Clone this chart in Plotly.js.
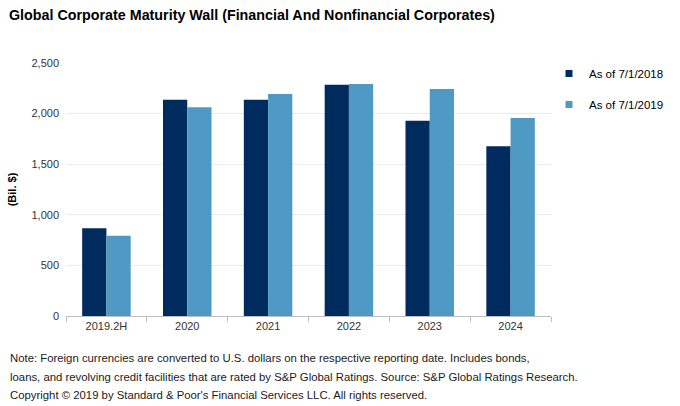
<!DOCTYPE html>
<html>
<head>
<meta charset="utf-8">
<script src="https://cdn.plot.ly/plotly-3.0.1.min.js"></script>
<style>html,body{margin:0;padding:0;background:#fff;}#chart{width:680px;height:406px;}</style>
</head>
<body>
<div id="chart"></div>
<script>
const categories = ["2019.2H", "2020", "2021", "2022", "2023", "2024"];
const seriesNames = ["As of 7/1/2018", "As of 7/1/2019"];
const values2018 = [866, 2137, 2137, 2286, 1930, 1677];
const values2019 = [793, 2062, 2194, 2292, 2243, 1956];
const yTicks = [0, 500, 1000, 1500, 2000, 2500];
const yTickLabels = ["0", "500", "1,000", "1,500", "2,000", "2,500"];
const noteLines = [
  "Note: Foreign currencies are converted to U.S. dollars on the respective reporting date. Includes bonds,",
  "loans, and revolving credit facilities that are rated by S&P Global Ratings. Source: S&P Global Ratings Research.",
  "Copyright © 2019 by Standard & Poor's Financial Services LLC. All rights reserved."
];
const colors = ["#002B5E", "#4E9AC4"];

const FONT = "Liberation Sans, Arial, sans-serif";
const W = 680, H = 406, L = 66, R = 128, T = 63, B = 90;
const plotW = W - L - R, plotH = H - T - B;

const traces = [
  {type: "bar", name: seriesNames[0], x: categories, y: values2018, showlegend: false,
   marker: {color: colors[0], line: {width: 0}}},
  {type: "bar", name: seriesNames[1], x: categories, y: values2019, showlegend: false,
   marker: {color: colors[1], line: {width: 0}}},
  {type: "scatter", mode: "markers", name: seriesNames[0], x: [null], y: [null], legendgroup: "a",
   marker: {symbol: "square", size: 7, color: colors[0]}},
  {type: "scatter", mode: "markers", name: seriesNames[1], x: [null], y: [null], legendgroup: "b",
   marker: {symbol: "square", size: 7, color: colors[1]}}
];

const noteY = [358, 377, 395];
const annotations = noteLines.map((t, i) => ({
  text: t, xref: "paper", yref: "paper",
  x: (8 - L) / plotW, y: (T + plotH - noteY[i]) / plotH,
  xanchor: "left", yanchor: "middle", showarrow: false,
  font: {family: FONT, size: 11.35, color: "#1a1a1a"}
}));

const layout = {
  width: W, height: H,
  margin: {l: L, r: R, t: T, b: B, pad: 0},
  paper_bgcolor: "#fff", plot_bgcolor: "#fff",
  font: {family: FONT, size: 11, color: "#333"},
  title: {text: "<b>Global Corporate Maturity Wall (Financial And Nonfinancial Corporates)</b>",
    xref: "container", yref: "container", x: 9 / W, y: 1 - 15 / H, xanchor: "left", yanchor: "middle",
    font: {family: FONT, size: 14.3, color: "#000"}},
  barmode: "group", bargap: 0.4, bargroupgap: 0,
  xaxis: {type: "category", showgrid: false, showline: true, linecolor: "#bfbfbf", linewidth: 1,
    ticks: "outside", ticklen: 5, tickcolor: "#bfbfbf", tickson: "boundaries",
    tickfont: {family: FONT, size: 11, color: "#333"}, fixedrange: true},
  yaxis: {range: [0, 2500], tickvals: yTicks, ticktext: yTickLabels, showgrid: true,
    gridcolor: "#ebebeb", gridwidth: 1, zeroline: false, showline: false, ticks: "", ticklabelstandoff: 6,
    tickfont: {family: FONT, size: 11, color: "#333"},
    title: {text: "<b>(Bil. $)</b>", standoff: 12, font: {family: FONT, size: 11, color: "#000"}},
    fixedrange: true},
  legend: {x: (549 - L) / plotW, y: 1 + 4 / plotH, xanchor: "left", yanchor: "top", orientation: "v",
    font: {family: FONT, size: 11.5, color: "#000"}, tracegroupgap: 12, bgcolor: "rgba(0,0,0,0)", itemwidth: 30},
  annotations: annotations,
  showlegend: true
};

Plotly.newPlot("chart", traces, layout, {displayModeBar: false, staticPlot: true});
</script>
</body>
</html>
